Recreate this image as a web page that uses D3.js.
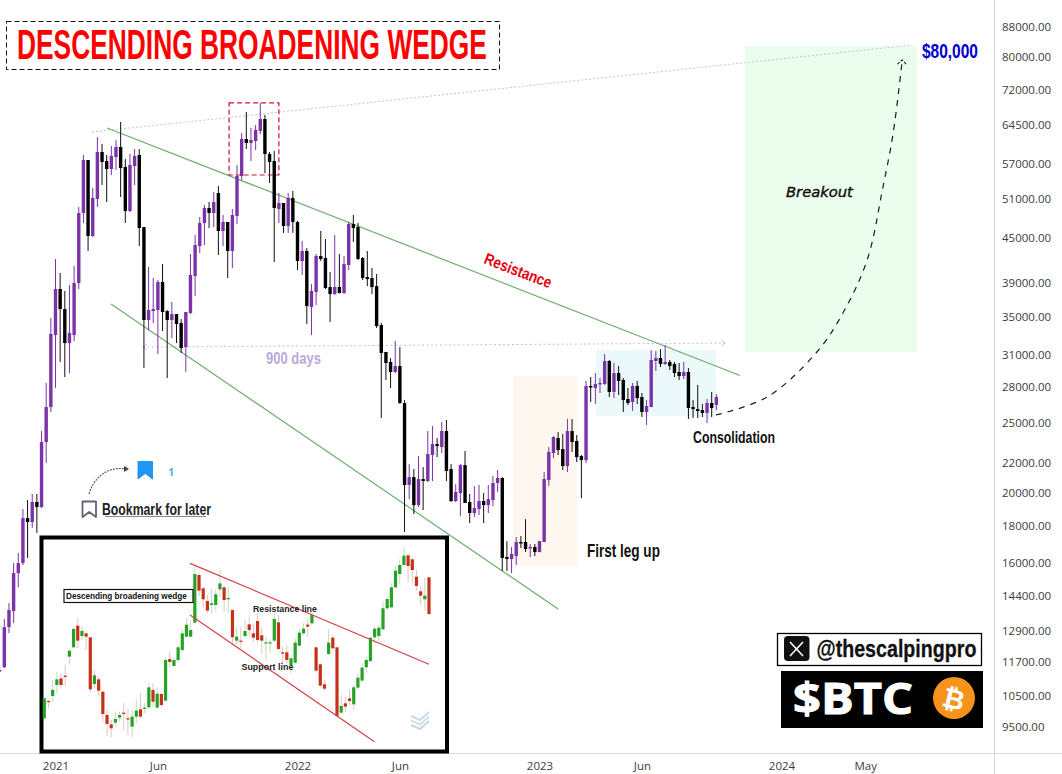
<!DOCTYPE html>
<html>
<head>
<meta charset="utf-8">
<script src="https://cdn.jsdelivr.net/npm/d3@7"></script>
<style>
html,body{margin:0;padding:0;background:#fff;overflow:hidden}
svg{display:block}
</style>
</head>
<body>
<svg id="chart" width="1062" height="774"></svg>
<script>
// ---- weekly BTC candles: week number 0 = first week of 2021 ----
const firstWeekNumber = -12;
const opens = [11340,11490,13050,13740,15500,16000,18460,18230,19430,19120,23510,26280,33040,38250,35890,32210,33040,38990,48710,57650,45270,50930,59140,57470,56020,58200,60080,56380,49020,56560,58580,46580,34660,35660,35780,39110,35660,34660,35320,34330,31800,35440,39860,43850,47180,49490,48710,51910,46000,47330,43160,48240,54790,61630,60860,61240,63230,65680,58760,57470,49330,50280,46730,51090,47330,41810,43160,36120,37890,42480,42210,38490,37640,38490,37770,41280,47030,46580,42210,39730,39610,38610,34110,31310,30330,29380,29940,26620,20510,21030,19240,20900,20770,22560,23360,23140,24350,21580,19490,19990,21850,19430,18760,19000,19490,19240,19550,20640,20970,16310,16210,16360,17110,17110,16780,16840,16570,17110,20840,22700,23810,22990,21780,24350,23590,22490,22200,28100,27920,28280,28280,30420,27570,29280,28640,26960,26700,28100,27130,25870,26280,30420,30710,30130,30330,30130,29380,29000,29380,26280,26110,26030,25790,26620,26450];
const closes = [11386,13050,13780,15500,16000,18460,18230,19430,19120,23510,26280,33150,38250,35890,32210,33260,38990,48710,57650,45270,51090,59140,57290,56020,58390,60080,56200,49020,56740,58390,46440,34660,35780,35890,39110,35550,34660,35320,34220,31700,35550,39990,43990,47180,49490,48710,50440,46000,47330,43160,48400,54790,61630,60860,61440,63430,65680,58760,57290,49490,50280,46730,51090,47330,41810,43160,36230,38010,42480,42080,38370,37640,38490,37770,41410,47030,46440,42080,39610,39480,38490,34000,31210,30230,29380,29940,26620,20510,21030,19240,20900,20770,22630,23360,23210,24350,21440,19490,20060,21850,19370,18760,19060,19490,19240,19610,20640,20970,16260,16210,16470,17110,17050,16730,16840,16570,17160,20900,22780,23890,22920,21780,24350,23510,22410,22200,28100,28000,28280,28370,30420,27570,29280,28550,26870,26620,28100,27040,25870,26360,30520,30710,30130,30330,29940,29280,29000,29380,26200,26110,25950,25790,26620,26200,27130];
const highs = [11566,13390,14090,16000,16520,19000,19550,19930,19930,24350,28370,34880,42080,40250,38010,38740,41150,49640,58580,57650,52740,62020,60660,58580,60270,61440,65060,57830,58760,59700,59700,46580,41020,39610,39360,41410,35780,36700,35320,34770,35550,42750,45420,48090,49960,50440,52070,53070,48400,47330,49330,56740,62820,67160,63830,64440,69120,66520,59140,59330,51910,50280,51910,52240,47490,44560,43570,38860,42750,46000,44840,40380,45420,42750,42480,47330,48400,47180,42340,43160,40890,40120,34330,31310,30710,32420,31800,26870,21920,21580,22490,21710,24350,24740,23810,25060,25220,21920,20570,21920,22850,19930,20440,20510,19990,20510,21100,21510,21030,17160,16840,17380,17440,18400,17000,17000,17160,21370,23140,23960,24270,24120,25300,25300,24040,22560,28550,28910,29280,28820,31110,30520,30230,29940,28820,27920,28370,28550,27480,26870,31500,31400,31600,32010,30520,30330,30230,30330,29750,26870,28190,26530,26960,27570,27390];
const lows = [11300,11460,12810,13220,14820,15900,16260,17890,17610,19060,21990,25870,27920,30330,28910,29280,32420,38250,47180,43160,45120,49640,53240,50440,54960,55850,51245,47180,48860,53240,43850,29750,33570,34330,31110,33470,28820,32730,32210,31210,29380,35320,37400,42890,43990,46440,46580,42620,43850,39610,40890,47030,54100,59700,57470,59520,62620,55300,53590,41680,47180,45710,45710,45710,40630,39990,34220,33040,36350,41810,38250,34440,37530,37700,37640,40630,44420,41950,39360,38610,37640,33790,25380,28640,27920,29280,26530,17660,19610,18700,19120,18940,20700,20770,22410,22700,20770,19430,19430,18580,19370,18170,18520,18640,18170,18760,19180,20060,15600,15600,15500,15900,16780,16570,16310,16360,16570,17100,20440,22340,22560,21510,21370,22780,22060,19670,21990,26700,26530,27480,28190,27130,27040,27300,25870,26450,25950,26530,25460,24820,26280,29470,29840,30040,29560,28910,28640,28730,25300,25380,25380,25460,24980,25460,26030];

// ---- axes ----
const priceTicks = [88000,80000,72000,64500,57000,51000,45000,39000,35000,31000,28000,25000,22000,20000,18000,16000,14400,12900,11700,10500,9500];
const timeTickWeeks = [0,22,52,74,104,126,156,174];
const timeTickLabels = ["2021","Jun","2022","Jun","2023","Jun","2024","May"];

// ---- annotations, in [week, price] ----
const orangeZone = [[98.3,29000],[112.1,15850]];
const blueZone = [[116.1,31503],[141.9,25530]];
const greenZone = [[148.2,82830],[185.1,31305]];
const redBox = [[37.3,69115],[48.0,54964]];
const resistanceLine = [[11.07,63825],[147.1,29049]];
const supportLine = [[11.93,36466],[108,13825]];
const topLine = [[7.84,63020],[184,83100]];
const daysLine = [[18.8,31802],[143.9,32210]];
const breakoutPath = [[141.9,25620],[152.9,27127],[163.6,31305],[169.2,35440],[174.4,41945],[177.8,52900],[180,62820],[181.9,78730]];
const breakoutHead = [[180.9,78200],[181.9,79230],[183,77950]];

// ---- inset (textbook pattern) candles, in inset levels ----
const insetOpen = [135,187,202,235,255,263,320,348,413,382,390,378,238,252,215,145,117,122,137,152,135,110,140,162,163,168,220,167,208,188,313,292,310,340,380,380,422,565,525,487,475,475,522,528,492,460,368,368,382,417,390,427,384,360,360,368,423,333,333,295,302,353,390,416,420,348,297,237,328,377,348,152,180,195,177,227,248,288,307,378,382,402,465,468,528,568,595,624,612,560,516,492,558];
const insetClose = [195,184,220,252,235,259,338,403,368,397,380,222,264,218,148,118,105,133,145,148,132,140,158,140,167,228,185,209,175,310,304,310,348,390,416,400,568,518,492,458,480,507,540,490,496,378,380,366,397,400,377,370,368,363,363,433,343,329,310,315,362,392,404,410,445,278,233,224,362,345,142,172,170,187,228,257,287,310,377,404,407,465,493,528,578,595,623,592,580,532,503,503,448];
const insetHigh = [195,190,250,275,270,295,338,410,435,410,395,378,280,260,215,160,130,155,155,180,165,160,190,210,180,242,240,230,210,315,335,315,350,400,435,430,595,570,530,505,525,520,582,530,530,460,410,410,430,440,420,450,410,380,370,450,445,350,355,325,375,405,420,430,460,350,300,250,402,385,348,205,200,220,235,270,300,320,378,410,415,485,500,540,595,612,650,628,615,580,530,558,560];
const insetLow = [135,165,185,210,227,230,297,345,345,370,340,212,225,200,125,82,78,110,125,100,85,78,120,135,150,165,170,165,170,185,288,290,305,332,378,378,420,500,465,450,450,455,500,455,450,355,355,345,375,380,365,365,328,310,330,365,340,295,300,270,298,350,385,380,415,275,230,218,325,342,140,148,155,175,158,222,245,270,303,360,365,400,460,465,525,540,592,545,540,518,475,460,445];
const insetUpperLine = [[34.85,600],[92,297]];
const insetLowerLine = [[34.85,445],[78.95,65]];

// ---- scales ----
const svg = d3.select("#chart");
const x = d3.scaleLinear().domain([0,156]).range([55.5,781.5]);
const y = d3.scaleLog().domain([88000,9500]).range([27,727]);
const ix = d3.scaleLinear().domain([0,92]).range([44.3,429]);
const iy = d3.scaleLinear().domain([0,700]).range([763.3,530]);

const CONDENSED = "'Liberation Sans Narrow','Liberation Sans',sans-serif";
const PURPLE = "#7b33a8";
const GREEN_LINE = "#6fae6f";

// zones
function zone(b, fill){
  svg.append("rect").attr("x",x(b[0][0])).attr("y",y(b[0][1]))
    .attr("width",x(b[1][0])-x(b[0][0])).attr("height",y(b[1][1])-y(b[0][1])).attr("fill",fill);
}
zone(orangeZone,"#fef7ef");
zone(blueZone,"#ebf9fb");
zone(greenZone,"#ebfded");

// axes frame
svg.append("line").attr("x1",994.5).attr("x2",994.5).attr("y1",0).attr("y2",774).attr("stroke","#d9d9d9");
svg.append("line").attr("x1",0).attr("x2",1062).attr("y1",753.5).attr("y2",753.5).attr("stroke","#d9d9d9");

const yAxis = d3.axisRight(y).tickValues(priceTicks).tickFormat(d=>d.toFixed(2)).tickSize(0).tickPadding(7);
const gy = svg.append("g").attr("transform","translate(995,0)").call(yAxis);
gy.select(".domain").remove();
gy.selectAll("text").attr("font-family","'Open Sans',sans-serif").attr("font-size",11.5).attr("fill","#3c3c3c");

const xAxis = d3.axisBottom(x).tickValues(timeTickWeeks).tickFormat((d,i)=>timeTickLabels[i]).tickSize(0).tickPadding(9);
const gx = svg.append("g").attr("transform","translate(0,753)").call(xAxis);
gx.select(".domain").remove();
gx.selectAll("text").attr("font-family","'Open Sans',sans-serif").attr("font-size",11.5).attr("fill","#3c3c3c");

// lines
const pl = d3.line().x(d=>x(d[0])).y(d=>y(d[1]));
function drawLine(pts, stroke, w, dash){
  return svg.append("path").attr("d",pl(pts)).attr("fill","none").attr("stroke",stroke).attr("stroke-width",w).attr("stroke-dasharray",dash||null);
}
drawLine(topLine,"#c9c2d2",1,"2 2");
drawLine(daysLine,"#cbbde0",1,"2 2.5");
// 900 days arrowheads
[[daysLine[0],1],[daysLine[1],-1]].forEach(([p,s])=>{
  const px=x(p[0]), py=y(p[1]);
  svg.append("path").attr("d",`M${px+s*4},${py-3}L${px},${py}L${px+s*4},${py+3}`).attr("fill","none").attr("stroke","#cbbde0").attr("stroke-width",1);
});
drawLine(resistanceLine,GREEN_LINE,1.2);
drawLine(supportLine,GREEN_LINE,1.2);

// candles
const candles = opens.map((o,i)=>({w:firstWeekNumber+i,o,c:closes[i],h:highs[i],l:lows[i]}));
const gc = svg.append("g");
gc.selectAll("line").data(candles).join("line")
  .attr("x1",d=>x(d.w)).attr("x2",d=>x(d.w)).attr("y1",d=>y(d.h)).attr("y2",d=>y(d.l))
  .attr("stroke",d=>d.c>=d.o?PURPLE:"#111").attr("stroke-width",1);
gc.selectAll("rect").data(candles).join("rect")
  .attr("x",d=>x(d.w)-1.7).attr("width",3.4)
  .attr("y",d=>y(Math.max(d.o,d.c))).attr("height",d=>Math.max(1.5,Math.abs(y(d.o)-y(d.c))))
  .attr("fill",d=>d.c>=d.o?PURPLE:"#000");

// red dashed box
svg.append("rect").attr("x",x(redBox[0][0])).attr("y",y(redBox[0][1]))
  .attr("width",x(redBox[1][0])-x(redBox[0][0])).attr("height",y(redBox[1][1])-y(redBox[0][1]))
  .attr("fill","none").attr("stroke","#c9142e").attr("stroke-width",1.2).attr("stroke-dasharray","5 3");

// breakout arrow
svg.append("path").attr("d",d3.line().x(d=>x(d[0])).y(d=>y(d[1])).curve(d3.curveCatmullRom)(breakoutPath))
  .attr("fill","none").attr("stroke","#1c1c1c").attr("stroke-width",1.2).attr("stroke-dasharray","6 6");
drawLine(breakoutHead,"#1c1c1c",1.1,"3 1.5");

// text helper: condensed looks are made by a horizontal scale fitted to the measured text
function label(txt,xp,yp,o){
  o=o||{};
  const t=svg.append("text").attr("x",0).attr("y",0).text(txt)
    .attr("font-family",o.family||CONDENSED).attr("font-size",o.size||16)
    .attr("font-weight",o.weight||"bold").attr("fill",o.fill||"#000")
    .attr("dominant-baseline","central");
  if(o.italic) t.attr("font-style","italic");
  let k=1;
  if(o.len) k=o.len/t.node().getComputedTextLength();
  t.attr("transform",`translate(${xp},${yp})`+(o.rotate?` rotate(${o.rotate})`:"")+` scale(${k},1)`);
  return t;
}

// title
svg.append("rect").attr("x",6.5).attr("y",21.5).attr("width",493).attr("height",48)
  .attr("fill","#fff").attr("stroke","#111").attr("stroke-width",1).attr("stroke-dasharray","5 3");
label("DESCENDING BROADENING WEDGE",17,44.5,{size:43,fill:"#ff0000",len:470});

label("$80,000",922,51,{size:21,fill:"#0000cc",len:56});
label("Resistance",485,258,{size:16,fill:"#e8000f",len:71,rotate:21});
label("900 days",266,358,{size:17,fill:"#baa9d8",len:55});
label("Consolidation",693,437,{size:17,fill:"#111",len:82});
label("First leg up",587,551,{size:18,fill:"#111",len:73});
label("Breakout",786,192.5,{size:14,family:"'DejaVu Sans',sans-serif",weight:"normal",italic:true,fill:"#111",len:67})
  .attr("stroke","#111").attr("stroke-width",0.4);

// bookmark note
const bookmarkPath = (l,t,w,h)=>`M${l},${t}H${l+w}V${t+h}L${l+w/2},${t+h*0.68}L${l},${t+h}Z`;
svg.append("path").attr("d",bookmarkPath(82.5,501.5,13.5,15.5)).attr("fill","none").attr("stroke","#5d6670").attr("stroke-width",1.8).attr("stroke-linejoin","round");
svg.append("path").attr("d",bookmarkPath(138,461.5,14.5,17.5)).attr("fill","#2196f3").attr("stroke","#2196f3").attr("stroke-width",1).attr("stroke-linejoin","round");
label("1",168,471.5,{size:11,family:"'Open Sans',sans-serif",fill:"#5ab3d6"});
label("Bookmark for later",102,509,{size:16,fill:"#222",len:109});
svg.append("line").attr("x1",105).attr("x2",206).attr("y1",516.5).attr("y2",516.5).attr("stroke","#8a8a8a").attr("stroke-width",1);
svg.append("path").attr("d","M89,494C94,477 108,466 126,469").attr("fill","none").attr("stroke","#555").attr("stroke-width",1.1).attr("stroke-dasharray","2 1");
svg.append("path").attr("d","M124,466L129,469L124,472Z").attr("fill","#444");

// inset
svg.append("rect").attr("x",41.5).attr("y",537.5).attr("width",405.5).attr("height",214).attr("fill","#fff").attr("stroke","#000").attr("stroke-width",4);
const insetData = insetOpen.map((o,i)=>({i,o,c:insetClose[i],h:insetHigh[i],l:insetLow[i]}));
const gi = svg.append("g");
gi.selectAll("line").data(insetData).join("line")
  .attr("x1",d=>ix(d.i)).attr("x2",d=>ix(d.i)).attr("y1",d=>iy(d.h)).attr("y2",d=>iy(d.l))
  .attr("stroke",d=>d.c>=d.o?"#c7d8c0":"#dcc8be").attr("stroke-width",1);
gi.selectAll("rect").data(insetData).join("rect")
  .attr("x",d=>ix(d.i)-1.6).attr("width",3.2)
  .attr("y",d=>iy(Math.max(d.o,d.c))).attr("height",d=>Math.max(1.2,Math.abs(iy(d.o)-iy(d.c))))
  .attr("fill",d=>d.c>=d.o?"#26a326":"#c5321a");
const ipl = d3.line().x(d=>ix(d[0])).y(d=>iy(d[1]));
[insetUpperLine,insetLowerLine].forEach(l=>svg.append("path").attr("d",ipl(l)).attr("fill","none").attr("stroke","#d8404a").attr("stroke-width",1.2));

svg.append("rect").attr("x",64).attr("y",589.5).attr("width",129).attr("height",13).attr("fill","#fff").attr("stroke","#111").attr("stroke-width",1.2);
label("Descending broadening wedge",66,595.5,{size:8.5,family:"'Liberation Sans',sans-serif",fill:"#111",len:121});
label("Resistance line",253,609,{size:8.5,family:"'Liberation Sans',sans-serif",fill:"#222",len:64});
label("Support line",241.5,667.5,{size:8.5,family:"'Liberation Sans',sans-serif",fill:"#222",len:52});
// watermark chevrons
["#c7dbe8","#cfe4dc","#c7d6ea"].forEach((c,k)=>{
  const t=717+k*4.5;
  svg.append("path").attr("d",`M411,${t-1}L420,${t+3}L429,${t-5}`).attr("fill","none").attr("stroke",c).attr("stroke-width",2.2);
});

// handle badge
svg.append("rect").attr("x",777.5).attr("y",633.5).attr("width",204).attr("height",32).attr("fill","#fff").attr("stroke","#000").attr("stroke-width",1.3);
svg.append("rect").attr("x",784).attr("y",636).attr("width",25.5).attr("height",25).attr("rx",4).attr("fill","#111");
svg.append("path").attr("d","M790,642L803,656M803,642L790,656").attr("stroke","#fff").attr("stroke-width",1.6).attr("fill","none");
label("@thescalpingpro",816.5,649,{size:24,fill:"#111",len:160}).attr("stroke","#111").attr("stroke-width",0.3);

// $BTC badge
svg.append("rect").attr("x",781).attr("y",671).attr("width",202).attr("height",57).attr("fill","#000");
label("$BTC",793,697,{size:43,family:"'Open Sans',sans-serif",fill:"#fff",len:120}).attr("stroke","#fff").attr("stroke-width",1);
svg.append("circle").attr("cx",954).attr("cy",698).attr("r",21).attr("fill","#f7931a");
svg.append("text").attr("x",954).attr("y",699).text("₿").attr("text-anchor","middle").attr("dominant-baseline","central")
  .attr("font-family","'DejaVu Sans',sans-serif").attr("font-weight","bold").attr("font-size",27).attr("fill","#fff")
  .attr("transform","rotate(14 954 698)");
</script>
</body>
</html>
